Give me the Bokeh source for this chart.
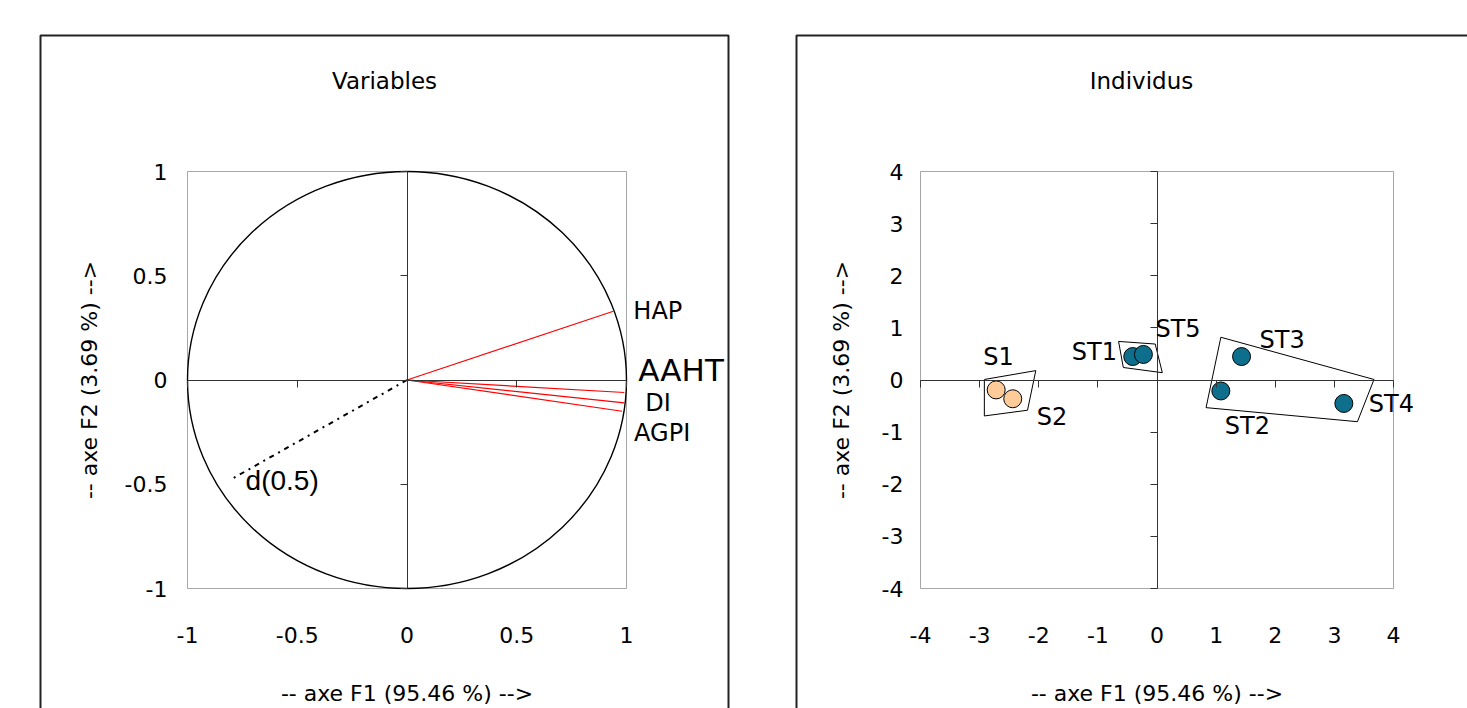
from bokeh.plotting import figure
from bokeh.models import (ColumnDataSource, LabelSet, Label, LinearAxis, FixedTicker,
                          NumeralTickFormatter, BoxAnnotation, Range1d)
from bokeh.core.properties import value
from bokeh.layouts import row
from bokeh.embed import file_html
from bokeh.resources import INLINE

FONT = "DejaVu Sans"

# ---------------- data ----------------
var_names = ["HAP", "AAHT", "DI", "AGPI"]
var_f1 = [0.94, 0.99, 0.99, 0.98]
var_f2 = [0.33, -0.06, -0.11, -0.15]

d_name = "d(0.5)"
d_f1 = -0.79
d_f2 = -0.47

ind_names = ["S1", "S2", "ST1", "ST5", "ST3", "ST2", "ST4"]
ind_f1 = [-2.72, -2.44, -0.41, -0.23, 1.43, 1.08, 3.16]
ind_f2 = [-0.19, -0.36, 0.45, 0.49, 0.45, -0.21, -0.45]
ind_group = ["S", "S", "ST", "ST", "ST", "ST", "ST"]

hull_f1 = [[-2.92, -2.05, -2.19, -2.92], [-0.65, -0.03, 0.09, -0.57], [1.08, 3.67, 3.39, 0.83]]
hull_f2 = [[0.01, 0.18, -0.58, -0.69], [0.74, 0.69, 0.14, 0.24], [0.82, 0.01, -0.80, -0.53]]

var_ticks = [-1, -0.5, 0, 0.5, 1]
ind_ticks = [-4, -3, -2, -1, 0, 1, 2, 3, 4]

title_left = "Variables"
title_right = "Individus"
x_label = "-- axe F1 (95.46 %) -->"
y_label = "-- axe F2 (3.69 %) -->"

# ---------------- layout / styles (pixels) ----------------
H = 708
LEFT_W, RIGHT_W = 764, 703
PLOT_TOP, PLOT_BOTTOM = 171, 588           # pixel rows of the plot area (both panels)
LEFT_PLOT_X = (187, 626)                   # pixel columns of plot area, left panel
RIGHT_PLOT_X = (156, 629)                  # pixel columns of plot area, right panel (canvas coords)

var_dx = [20, 14, 21, 12]
var_dy = [0, 23, 0, -22]
var_fs = ["24px", "31px", "24px", "24px"]
ind_dx = [-13, 24, -61, 12, 18, 4, 25]
ind_dy = [33, -18, 5, 25, 17, -35, -1]
group_color = {"S": "#FFCC99", "ST": "#0E6F8C"}


def span_range(lo, hi, px_lo, px_hi, size, flip=False):
    """Range so that data lo..hi occupies pixels px_lo..px_hi of a canvas of `size` px."""
    scale = (hi - lo) / (px_hi - px_lo)
    if not flip:
        return Range1d(lo - px_lo * scale, hi + (size - px_hi) * scale)
    return Range1d(lo - (size - px_hi) * scale, hi + px_lo * scale)


def make_panel(width, ticks, px_x, fmt, tick_standoff_y, ylabel_standoff):
    lo, hi = ticks[0], ticks[-1]
    p = figure(width=width, height=H, output_backend="svg", toolbar_location=None,
               x_range=span_range(lo, hi, px_x[0], px_x[1], width),
               y_range=span_range(lo, hi, PLOT_TOP, PLOT_BOTTOM, H, flip=True),
               x_axis_location=None, y_axis_location=None,
               min_border=0, min_border_left=0, min_border_right=0,
               min_border_top=0, min_border_bottom=0,
               background_fill_color="white", border_fill_color="white")
    p.outline_line_color = None
    p.xgrid.visible = False
    p.ygrid.visible = False
    # plot-area box
    p.quad(left=lo, right=hi, bottom=lo, top=hi, fill_color=None,
           line_color="#A6A6A6", line_width=1)
    # labelled axes along the plot-area edges
    xa = LinearAxis(fixed_location=lo, bounds=(lo, hi), ticker=FixedTicker(ticks=ticks),
                    formatter=NumeralTickFormatter(format=fmt), axis_label=x_label)
    ya = LinearAxis(fixed_location=lo, bounds=(lo, hi), ticker=FixedTicker(ticks=ticks),
                    formatter=NumeralTickFormatter(format=fmt), axis_label=y_label)
    for ax in (xa, ya):
        ax.axis_line_color = None
        ax.major_tick_line_color = None
        ax.minor_tick_line_color = None
        ax.major_tick_out = 0
        ax.major_tick_in = 0
        ax.major_label_text_font = FONT
        ax.major_label_text_font_size = "22px"
        ax.major_label_text_color = "black"
        ax.axis_label_text_font = FONT
        ax.axis_label_text_font_size = "22px"
        ax.axis_label_text_font_style = "normal"
        ax.axis_label_text_color = "black"
    xa.major_label_standoff = 38
    xa.axis_label_standoff = 35
    ya.major_label_standoff = tick_standoff_y
    ya.axis_label_standoff = ylabel_standoff
    p.add_layout(xa, "below")
    p.add_layout(ya, "left")
    # axes through the origin
    for loc in ("below", "left"):
        ax = LinearAxis(ticker=FixedTicker(ticks=ticks), fixed_location=0, bounds=(lo, hi))
        ax.axis_line_color = "#333333"
        ax.axis_line_width = 1
        ax.major_tick_line_color = "#333333"
        ax.major_tick_out = 7
        ax.major_tick_in = 0
        ax.minor_tick_line_color = None
        ax.major_label_text_font_size = "0px"
        ax.major_label_text_color = None
        p.add_layout(ax, loc)
    return p


def outer_box(p, left, right):
    p.add_layout(BoxAnnotation(left=left, right=right, top=35, bottom=H + 50,
                               left_units="canvas", right_units="canvas",
                               top_units="canvas", bottom_units="canvas",
                               fill_alpha=0, fill_color=None, line_color="#222222",
                               line_alpha=1.0, line_width=2, level="overlay"))


def title(p, text, px_x):
    xr, yr = p.x_range, p.y_range
    x = xr.start + (xr.end - xr.start) * px_x / p.width
    y = yr.end - (yr.end - yr.start) * 80 / H
    p.add_layout(Label(x=x, y=y, text=text, text_font=FONT, text_font_size="23px",
                       text_align="center", text_baseline="middle", text_color="black"))


# ---------------- left panel: variables ----------------
pl = make_panel(LEFT_W, var_ticks, LEFT_PLOT_X, "0.[0]", 20, 20)
outer_box(pl, 40, 728)
title(pl, title_left, 384)

pl.ellipse(x=0, y=0, width=2, height=2, fill_color=None, line_color="black", line_width=1.4)
vsrc = ColumnDataSource(dict(x=var_f1, y=var_f2, name=var_names, dx=var_dx, dy=var_dy, fs=var_fs,
                             x0=[0] * len(var_f1), y0=[0] * len(var_f1)))
pl.segment(x0="x0", y0="y0", x1="x", y1="y", source=vsrc, line_color="#FF0000", line_width=1.2)
pl.segment(x0=0, y0=0, x1=d_f1, y1=d_f2, line_color="black", line_width=2, line_dash="5 5 2 5")
pl.add_layout(LabelSet(x="x", y="y", text="name", x_offset="dx", y_offset="dy", source=vsrc,
                       text_font=value(FONT), text_font_size="fs", text_baseline="middle",
                       text_align="left", text_color="black"))
pl.add_layout(Label(x=d_f1, y=d_f2, text=d_name, x_offset=12, y_offset=-3,
                    text_font="Liberation Sans", text_font_size="28px", text_baseline="middle",
                    text_color="black"))

# ---------------- right panel: individuals ----------------
pr = make_panel(RIGHT_W, ind_ticks, RIGHT_PLOT_X, "0", 17, 25)
outer_box(pr, 32, RIGHT_W + 50)
title(pr, title_right, 377)

pr.patches(xs=hull_f1, ys=hull_f2, fill_color=None, line_color="black", line_width=1)
isrc = ColumnDataSource(dict(x=ind_f1, y=ind_f2, name=ind_names, dx=ind_dx, dy=ind_dy,
                             color=[group_color[g] for g in ind_group]))
pr.scatter(x="x", y="y", source=isrc, size=18, fill_color="color", line_color="black", line_width=1)
pr.add_layout(LabelSet(x="x", y="y", text="name", x_offset="dx", y_offset="dy", source=isrc,
                       text_font=value(FONT), text_font_size="24px", text_baseline="middle",
                       text_align="left", text_color="black"))

layout = row(pl, pr, spacing=0)
open("out.html", "w").write(file_html(layout, INLINE))
